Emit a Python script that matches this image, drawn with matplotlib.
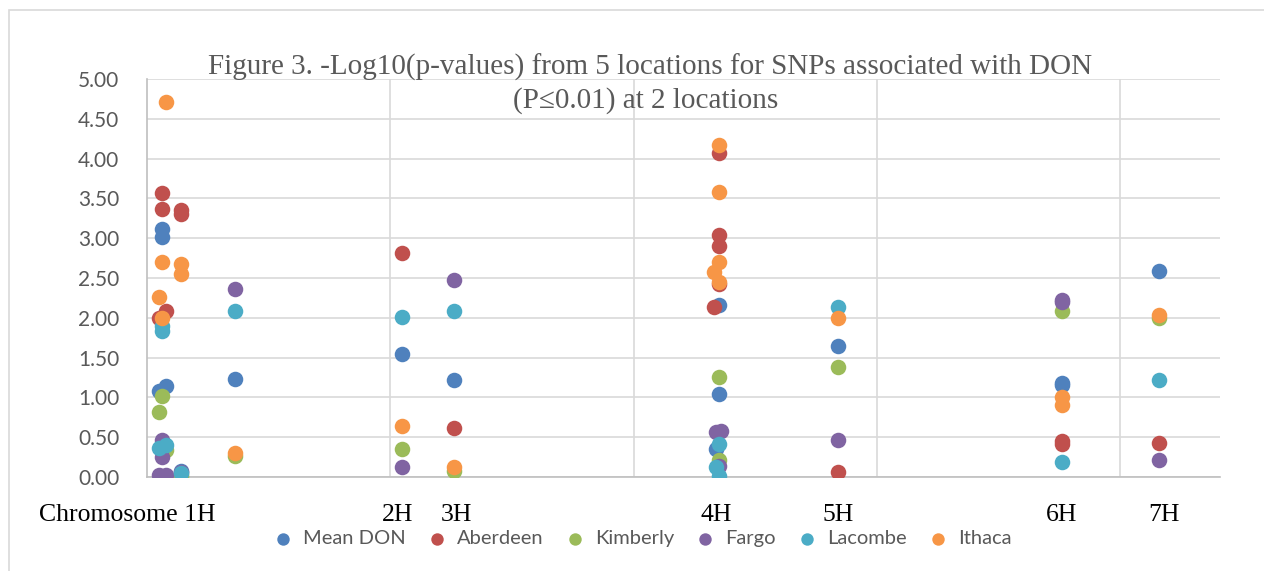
import matplotlib.pyplot as plt
from matplotlib.patches import Rectangle

# x positions are in axis units (vertical grid every 1.0), y = -log10(p)
mean_don_x = [0.06, 0.06, 0.05, 0.08, 0.14, 0.36, 1.05, 1.26, 2.35, 2.35, 2.34, 2.84, 3.76, 3.76, 4.16]
mean_don_y = [3.11, 3.01, 1.08, 1.14, 0.08, 1.23, 1.54, 1.22, 2.16, 1.04, 0.35, 1.65, 1.18, 1.16, 2.59]

aberdeen_x = [0.06, 0.06, 0.14, 0.14, 0.08, 0.05, 1.05, 1.26, 2.35, 2.35, 2.35, 2.35, 2.33, 2.84, 3.76, 3.76, 4.16]
aberdeen_y = [3.57, 3.37, 3.35, 3.30, 2.09, 2.00, 2.82, 0.61, 4.07, 3.04, 2.90, 2.42, 2.13, 0.06, 0.45, 0.42, 0.43]

kimberly_x = [0.06, 0.05, 0.08, 0.14, 0.14, 0.36, 1.05, 1.26, 2.35, 2.35, 2.84, 3.76, 4.16]
kimberly_y = [1.02, 0.82, 0.34, 0.00, 0.02, 0.26, 0.35, 0.07, 1.26, 0.21, 1.38, 2.09, 2.00]

fargo_x = [0.06, 0.06, 0.05, 0.08, 0.14, 0.36, 1.05, 1.26, 2.34, 2.36, 2.35, 2.84, 3.76, 3.76, 4.16]
fargo_y = [0.47, 0.25, 0.03, 0.03, 0.06, 2.36, 0.12, 2.48, 0.57, 0.58, 0.14, 0.46, 2.22, 2.20, 0.22]

lacombe_x = [0.06, 0.06, 0.05, 0.08, 0.14, 0.36, 1.05, 1.26, 2.35, 2.34, 2.35, 2.84, 3.76, 4.16]
lacombe_y = [1.90, 1.83, 0.37, 0.40, 0.05, 2.09, 2.01, 2.08, 0.42, 0.13, 0.01, 2.13, 0.19, 1.22]

ithaca_x = [0.08, 0.06, 0.14, 0.14, 0.05, 0.06, 0.36, 1.05, 1.26, 2.35, 2.35, 2.35, 2.33, 2.35, 2.84, 3.76, 3.76, 4.16]
ithaca_y = [4.71, 2.70, 2.68, 2.55, 2.26, 2.00, 0.30, 0.64, 0.12, 4.17, 3.58, 2.70, 2.57, 2.45, 2.00, 1.01, 0.91, 2.03]

series = [
    ("Mean DON", mean_don_x, mean_don_y, "#4F81BD"),
    ("Aberdeen", aberdeen_x, aberdeen_y, "#C0504D"),
    ("Kimberly", kimberly_x, kimberly_y, "#9BBB59"),
    ("Fargo", fargo_x, fargo_y, "#8064A2"),
    ("Lacombe", lacombe_x, lacombe_y, "#4BACC6"),
    ("Ithaca", ithaca_x, ithaca_y, "#F79646"),
]

chrom_labels = ["Chromosome 1H", "2H", "3H", "4H", "5H", "6H", "7H"]
chrom_label_x = [0.28, 1.03, 1.27, 2.34, 2.84, 3.76, 4.18]

fig = plt.figure(figsize=(12.64, 5.71), dpi=100)
ax = fig.add_axes([0.1163, 0.1646, 0.8487, 0.697])

# outer chart border
fig.patches.append(Rectangle((0.007, -0.01), 1.2, 0.993, transform=fig.transFigure,
                             fill=False, edgecolor="#d9d9d9", linewidth=1.2))

for name, xs, ys, col in series:
    ax.scatter(xs, ys, s=125, color=col, label=name, zorder=3, linewidths=0)

ax.set_xlim(0, 4.41)
ax.set_ylim(0, 5)
ax.set_yticks([i * 0.5 for i in range(11)])
ax.set_yticklabels([f"{i * 0.5:.2f}" for i in range(11)], family="Lato", fontsize=15, color="#595959")
ax.set_xticks([1, 2, 3, 4])
ax.set_xticklabels([])
ax.tick_params(length=0, pad=20)
ax.grid(True, color="#d9d9d9", linewidth=1.2, zorder=0)
ax.set_axisbelow(True)
for s in ["top", "right"]:
    ax.spines[s].set_visible(False)
for s in ["left", "bottom"]:
    ax.spines[s].set_color("#bfbfbf")
    ax.spines[s].set_linewidth(1.2)

for lab, xp in zip(chrom_labels, chrom_label_x):
    ax.text(xp, -0.48, lab, ha="right" if lab.startswith("Chrom") else "center", va="center",
            family="Liberation Serif", fontsize=18.5, color="black")

fig.text(0.514, 0.882, "Figure 3. -Log10(p-values) from 5 locations for SNPs associated with DON",
         ha="center", va="center", family="Liberation Serif", fontsize=21, color="#595959")
fig.text(0.511, 0.824, "(P\u22640.01) at 2 locations",
         ha="center", va="center", family="Liberation Serif", fontsize=21, color="#595959")

leg = ax.legend(loc="center", bbox_to_anchor=(0.457, -0.155), ncol=6, frameon=False,
                prop={"family": "Lato", "size": 14.5}, handletextpad=0.0, columnspacing=0.55,
                markerscale=0.8)
for t in leg.get_texts():
    t.set_color("#595959")

fig.savefig("out.png", dpi=100)
